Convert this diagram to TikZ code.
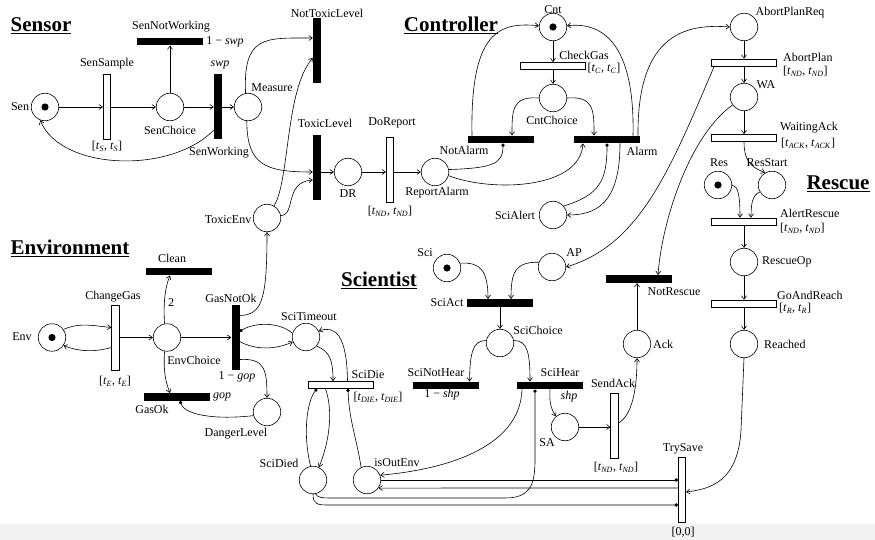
\documentclass[tikz,border=0pt]{standalone}
\usepackage{fontspec}
\setmainfont{Liberation Serif}
\usetikzlibrary{arrows.meta}

% timing interval [t_a, t_b]
\newcommand\tsub[1]{\textit{t}\textsubscript{\textit{#1}}}
\newcommand\ivl[2]{[\tsub{#1}, \tsub{#2}]}

\tikzset{
  pl/.style={circle, draw, minimum size=27.5pt, inner sep=0pt, line width=0.6pt},
  tok/.style={pl, path picture={\fill[black] (path picture bounding box.center) circle (3.6pt);}},
  hbar/.style={rectangle, fill=black, minimum width=66pt, minimum height=7.5pt, inner sep=0pt},
  vbar/.style={rectangle, fill=black, minimum width=8pt, minimum height=65pt, inner sep=0pt},
  hbox/.style={rectangle, draw, fill=white, minimum width=65pt, minimum height=7pt, inner sep=0pt, line width=0.6pt},
  vbox/.style={rectangle, draw, fill=white, minimum width=7.5pt, minimum height=65pt, inner sep=0pt, line width=0.6pt},
  lab/.style={font=\fontsize{12}{14}\selectfont, inner sep=0pt},
  head/.style={font=\fontsize{21}{24}\selectfont\bfseries, inner sep=0pt},
  arc/.style={-{Straight Barb[length=3.5pt,width=5pt]}, line width=0.6pt},
  dotarc/.style={-{Circle[length=3.4pt]}, line width=0.6pt},
}

\begin{document}
\begin{tikzpicture}[x=1pt, y=-1pt]
\fill[white] (0,0) rectangle (875,540);
\fill[black!5] (0,524) rectangle (875,540);
\useasboundingbox (0,0) rectangle (875,540);

% ---------------- headings
\node[head] (hSensor) at (41,26) {\underline{Sensor}};
\node[head] (hController) at (451,25) {\underline{Controller}};
\node[head] (hEnvironment) at (70,248) {\underline{Environment}};
\node[head] (hScientist) at (379,280) {\underline{Scientist}};
\node[head] (hRescue) at (838,184) {\underline{Rescue}};

% ---------------- Sensor
\node[tok] (Sen) at (45,107) {};
\node[vbox] (SenSample) at (107,107) {};
\node[pl] (SenChoice) at (170,107) {};
\node[hbar] (SenNotWorking) at (170,41.5) {};
\node[vbar] (SenWorking) at (218,107) {};
\node[pl] (Measure) at (248,107) {};
\node[vbar] (NotToxicLevel) at (317,51) {};
\node[vbar] (ToxicLevel) at (317,168) {};
\node[pl] (DR) at (348,172) {};
\node[vbox] (DoReport) at (390,170) {};
\node[pl] (ReportAlarm) at (435,172) {};
\node[pl] (ToxicEnv) at (267,218) {};

\node[lab] (lSen) at (20,107) {Sen};
\node[lab] (lSenSample) at (107,64) {SenSample};
\node[lab] (lSenSampleT) at (107,146) {\ivl{S}{S}};
\node[lab] (lSenChoice) at (170,130) {SenChoice};
\node[lab] (lSenNotWorking) at (171,27) {SenNotWorking};
\node[lab] (lSenNotWorkingP) at (225,42) {1 − \textit{swp}};
\node[lab] (lSenWorkingP) at (220,65) {\textit{swp}};
\node[lab] (lSenWorking) at (219,153) {SenWorking};
\node[lab] (lMeasure) at (272,88) {Measure};
\node[lab] (lNotToxicLevel) at (327,13) {NotToxicLevel};
\node[lab] (lToxicLevel) at (325,123) {ToxicLevel};
\node[lab] (lDR) at (348,194) {DR};
\node[lab] (lDoReport) at (392,123) {DoReport};
\node[lab] (lDoReportT) at (390,211) {\ivl{ND}{ND}};
\node[lab] (lReportAlarm) at (437,193) {ReportAlarm};
\node[lab] (lToxicEnv) at (228,220) {ToxicEnv};

% ---------------- Controller
\node[tok] (Cnt) at (553,27) {};
\node[hbox] (CheckGas) at (553,66) {};
\node[pl] (CntChoice) at (553,98) {};
\node[hbar] (NotAlarm) at (501,139.5) {};
\node[hbar] (Alarm) at (607,139.5) {};
\node[pl] (SciAlert) at (553,215) {};

\node[lab] (lCnt) at (553,10) {Cnt};
\node[lab] (lCheckGas) at (584,55) {CheckGas};
\node[lab] (lCheckGasT) at (604,68) {\ivl{C}{C}};
\node[lab] (lCntChoice) at (552,120) {CntChoice};
\node[lab] (lNotAlarm) at (464,150) {NotAlarm};
\node[lab] (lAlarm) at (642,151) {Alarm};
\node[lab] (lSciAlert) at (515,215) {SciAlert};

% ---------------- Rescue
\node[pl] (AbortPlanReq) at (744,27) {};
\node[hbox] (AbortPlan) at (744,62.5) {};
\node[pl] (WA) at (744,97) {};
\node[hbox] (WaitingAck) at (744,138) {};
\node[tok] (Res) at (718,185) {};
\node[pl] (ResStart) at (772,185) {};
\node[hbox] (AlertRescue) at (744,221.5) {};
\node[pl] (RescueOp) at (744,262) {};
\node[hbox] (GoAndReach) at (744,303.5) {};
\node[pl] (Reached) at (744,344) {};
\node[hbar] (NotRescue) at (639,279) {};
\node[pl] (Ack) at (637,344) {};
\node[vbox] (SendAck) at (614.5,426) {};
\node[vbox] (TrySave) at (682,490) {};

\node[lab] (lAbortPlanReq) at (790,13) {AbortPlanReq};
\node[lab, anchor=west] (lAbortPlan) at (783,57) {AbortPlan};
\node[lab, anchor=west] (lAbortPlanT) at (783,71) {\ivl{ND}{ND}};
\node[lab] (lWA) at (766,85) {WA};
\node[lab, anchor=west] (lWaitingAck) at (780,128) {WaitingAck};
\node[lab, anchor=west] (lWaitingAckT) at (781,143) {\ivl{ACK}{ACK}};
\node[lab] (lRes) at (719,163) {Res};
\node[lab] (lResStart) at (767,163) {ResStart};
\node[lab, anchor=west] (lAlertRescue) at (780,213) {AlertRescue};
\node[lab, anchor=west] (lAlertRescueT) at (780,228) {\ivl{ND}{ND}};
\node[lab, anchor=west] (lRescueOp) at (762,262) {RescueOp};
\node[lab, anchor=west] (lGoAndReach) at (777,295) {GoAndReach};
\node[lab, anchor=west] (lGoAndReachT) at (779,308) {\ivl{R}{R}};
\node[lab, anchor=west] (lReached) at (764,344) {Reached};
\node[lab] (lNotRescue) at (674,292) {NotRescue};
\node[lab, anchor=west] (lAck) at (653,344) {Ack};
\node[lab] (lSendAck) at (613,383) {SendAck};
\node[lab] (lSendAckT) at (616,467) {\ivl{ND}{ND}};
\node[lab] (lTrySave) at (683,449) {TrySave};
\node[lab] (lTrySaveT) at (683,532) {[0,0]};

% ---------------- Environment
\node[tok] (Env) at (52,337.5) {};
\node[vbox] (ChangeGas) at (115.5,337.5) {};
\node[pl] (EnvChoice) at (167,337.5) {};
\node[hbar] (Clean) at (178.5,271.5) {};
\node[hbar] (GasOk) at (176.5,397) {};
\node[vbar] (GasNotOk) at (235.5,337.5) {};
\node[pl] (DangerLevel) at (267,412) {};

\node[lab] (lEnv) at (22,337) {Env};
\node[lab] (lChangeGas) at (113,297) {ChangeGas};
\node[lab] (lChangeGasT) at (115,381) {\ivl{E}{E}};
\node[lab] (lEnvChoice) at (194,360) {EnvChoice};
\node[lab] (lClean) at (172,258) {Clean};
\node[lab] (lCleanW) at (171,303) {2};
\node[lab] (lGasNotOk) at (231,298) {GasNotOk};
\node[lab] (lGasNotOkP) at (237,377) {1 − \textit{gop}};
\node[lab] (lGasOkP) at (222,397) {\textit{gop}};
\node[lab] (lGasOk) at (152,409) {GasOk};
\node[lab] (lDangerLevel) at (236,434) {DangerLevel};

% ---------------- Scientist
\node[tok] (Sci) at (447,268) {};
\node[pl] (AP) at (552,267) {};
\node[hbar] (SciAct) at (500,303) {};
\node[pl] (SciChoice) at (500,343) {};
\node[hbar] (SciNotHear) at (445.5,385.5) {};
\node[hbar] (SciHear) at (550,385.5) {};
\node[pl] (SA) at (565,427) {};
\node[pl] (SciTimeout) at (306,337) {};
\node[hbox] (SciDie) at (340.5,385) {};
\node[pl] (SciDied) at (313,480) {};
\node[pl] (isOutEnv) at (367,480) {};

\node[lab] (lSci) at (425,253) {Sci};
\node[lab] (lAP) at (574,253) {AP};
\node[lab] (lSciAct) at (447,303) {SciAct};
\node[lab] (lSciChoice) at (538,330) {SciChoice};
\node[lab] (lSciNotHear) at (436,373) {SciNotHear};
\node[lab] (lSciNotHearP) at (442,395) {1 − \textit{shp}};
\node[lab] (lSciHear) at (560,373) {SciHear};
\node[lab] (lSciHearP) at (569,397) {\textit{shp}};
\node[lab] (lSA) at (547,443) {SA};
\node[lab] (lSciTimeout) at (309,317) {SciTimeout};
\node[lab] (lSciDie) at (368,375) {SciDie};
\node[lab] (lSciDieT) at (378,397) {\ivl{DIE}{DIE}};
\node[lab] (lSciDied) at (279,463) {SciDied};
\node[lab] (lisOutEnv) at (397,463) {isOutEnv};

% ================= arcs
% Sensor
\draw[arc] (Sen) -- (SenSample);
\draw[arc] (SenSample) -- (SenChoice);
\draw[arc] (SenChoice) -- (SenWorking);
\draw[arc] (SenWorking) -- (Measure);
\draw[arc] (SenChoice) -- (SenNotWorking);
\draw[arc] ([yshift=-23pt]SenWorking.west) .. controls (170,175) and (60,170) .. (Sen.250);
\draw[arc] (Measure.100) .. controls (243,35) and (265,38) .. ([yshift=13pt]NotToxicLevel.west);
\draw[arc] (Measure.265) .. controls (247,165) and (265,172) .. ([yshift=-4pt]ToxicLevel.west);
\draw[arc] (ToxicEnv.60) .. controls (290,180) and (285,90) .. ([yshift=-7pt]NotToxicLevel.west);
\draw[arc] (ToxicEnv.10) .. controls (296,215) and (284,182) .. ([yshift=-12pt]ToxicLevel.west);
\draw[arc] ([yshift=-4pt]ToxicLevel.east) -- (DR);
\draw[arc] (DR.east) -- (DR.east -| DoReport.west);
\draw[arc] (DoReport.east |- ReportAlarm.west) -- (ReportAlarm.west);

% Controller
\draw[arc] (Cnt) -- (CheckGas);
\draw[arc] (CheckGas) -- (CntChoice);
\draw[arc] (CntChoice.180) .. controls (512,96) and (512,110) .. ([xshift=11pt]NotAlarm.north);
\draw[arc] (CntChoice.0) .. controls (594,96) and (594,110) .. ([xshift=-13pt]Alarm.north);
\draw[arc] ([xshift=-29pt]NotAlarm.north) .. controls (470,30) and (500,22) .. (Cnt.175);
\draw[arc] ([xshift=26pt]Alarm.north) .. controls (635,40) and (600,22) .. (Cnt.5);
\draw[arc] ([xshift=31pt]Alarm.north) .. controls (637,30) and (690,24) .. (AbortPlanReq.180);
\draw[dotarc] (ReportAlarm.10) .. controls (490,168) and (503,165) .. ([xshift=2pt]NotAlarm.south);
\draw[arc] (ReportAlarm.-15) .. controls (490,192) and (580,190) .. ([xshift=-24pt]Alarm.south);
\draw[dotarc] (SciAlert.40) .. controls (600,195) and (607,180) .. (Alarm.south);
\draw[arc] ([xshift=13pt]Alarm.south) .. controls (620,205) and (595,215) .. (SciAlert.0);

% Rescue
\draw[arc] (AbortPlanReq) -- (AbortPlan);
\draw[arc] (AbortPlan) -- (WA);
\draw[arc] (WA) -- (WaitingAck);
\draw[arc] (WaitingAck.south) .. controls (744,165) and (755,168) .. (ResStart.120);
\draw[arc] (Res.east) .. controls (738,186) and (740,195) .. ([xshift=-4pt]AlertRescue.north);
\draw[arc] (ResStart.210) .. controls (752,195) and (751,205) .. ([xshift=7pt]AlertRescue.north);
\draw[arc] (AlertRescue) -- (RescueOp);
\draw[arc] (RescueOp) -- (GoAndReach);
\draw[arc] (GoAndReach) -- (Reached);
\draw[arc] (Reached.south) -- (741,430) .. controls (738,482) and (710,489) .. ([yshift=-2pt]TrySave.east);
\draw[arc] (WA.215) .. controls (690,135) and (662,220) .. ([xshift=19pt]NotRescue.north);
\draw[arc] ([xshift=3pt]AbortPlan.south west) .. controls (670,170) and (640,245) .. (AP.east);
\draw[arc] (Ack.north) -- (Ack.north |- NotRescue.south);
\draw[arc] ([yshift=3pt]SendAck.east) .. controls (632,415) and (637,390) .. (Ack.south);

% Environment
\draw[arc] (Env.35) .. controls (80,322) and (95,326) .. ([yshift=10pt]ChangeGas.west);
\draw[arc] ([yshift=-10pt]ChangeGas.west) .. controls (95,352) and (80,352) .. (Env.-35);
\draw[arc] (ChangeGas) -- (EnvChoice);
\draw[arc] (EnvChoice.100) .. controls (163,300) and (166,285) .. ([xshift=-8.5pt]Clean.south);
\draw[arc] (EnvChoice.260) .. controls (163,375) and (167,385) .. ([xshift=-6.5pt]GasOk.north);
\draw[arc] (EnvChoice) -- (GasNotOk);
\draw[arc] ([yshift=22pt]GasNotOk.east) .. controls (262,315) and (267,300) .. (ToxicEnv.south);
\draw[arc] ([yshift=-22pt]GasNotOk.east) .. controls (265,358) and (267,370) .. (DangerLevel.north);
\draw[dotarc] (DangerLevel.195) .. controls (215,420) and (185,415) .. ([xshift=3.5pt]GasOk.south);

% Scientist
\draw[arc] (Sci.20) .. controls (480,262) and (488,270) .. ([xshift=-12pt]SciAct.north);
\draw[arc] (AP.160) .. controls (515,262) and (511,272) .. ([xshift=11pt]SciAct.north);
\draw[arc] (SciAct) -- (SciChoice);
\draw[arc] (SciChoice.170) .. controls (472,340) and (470,355) .. ([xshift=24pt]SciNotHear.north);
\draw[arc] (SciChoice.10) .. controls (528,340) and (530,355) .. ([xshift=-20pt]SciHear.north);
\draw[arc] (SciHear.south) .. controls (549,405) and (552,410) .. (SA.130);
\draw[arc] (SA.east) -- (SA.east -| SendAck.west);
\draw[arc] ([xshift=-28pt]SciHear.south) .. controls (520,450) and (440,470) .. (isOutEnv.20);
\draw[dotarc] (SciDied.280) .. controls (318,498) and (322,498) .. (335,498) -- (505,498)
   .. controls (530,498) and (535,485) .. (535,460) -- ([xshift=-15pt]SciHear.south);
\draw[dotarc] (SciDied.south) .. controls (313,505) and (318,505) .. (330,505) -- ([yshift=-15pt]TrySave.west);
\draw[dotarc] (isOutEnv.east) -- (isOutEnv.east -| TrySave.west);
\draw[arc] ([yshift=2pt]TrySave.west) -- (isOutEnv.-35);
\draw[dotarc] (isOutEnv.115) .. controls (357,440) and (349,420) .. ([xshift=7.5pt]SciDie.south);
\draw[dotarc] (SciDied.100) .. controls (302,430) and (308,400) .. ([xshift=-23.5pt]SciDie.south);
\draw[arc] ([xshift=-15pt]SciDie.south) .. controls (333,410) and (330,440) .. (SciDied.65);
\draw[arc] (SciTimeout.-40) .. controls (330,352) and (333,360) .. ([xshift=-7.5pt]SciDie.north);
\draw[arc] ([xshift=7pt]SciDie.north) .. controls (347,335) and (335,325) .. (SciTimeout.25);
\draw[dotarc] (SciTimeout.165) .. controls (280,322) and (255,322) .. ([yshift=6pt]GasNotOk.east);
\draw[arc] ([yshift=-4pt]GasNotOk.east) .. controls (255,350) and (275,350) .. (SciTimeout.200);
\end{tikzpicture}
\end{document}
